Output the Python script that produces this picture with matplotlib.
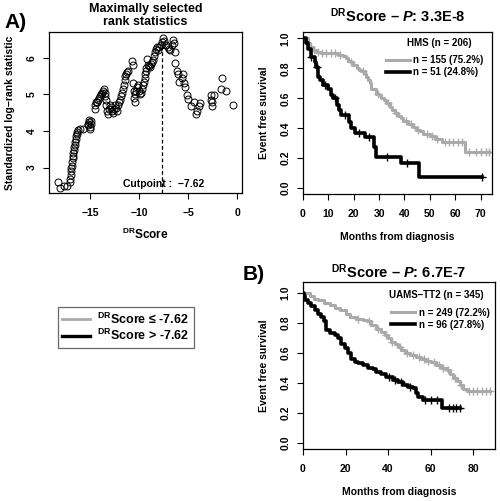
import numpy as np
import matplotlib
matplotlib.use("Agg")
import matplotlib.pyplot as plt
from matplotlib.lines import Line2D

plt.rcParams["font.family"] = ["Liberation Sans", "DejaVu Sans"]
plt.rcParams["font.weight"] = "bold"
plt.rcParams["mathtext.fontset"] = "custom"
plt.rcParams["mathtext.rm"] = "Liberation Sans:bold"
plt.rcParams["mathtext.bf"] = "Liberation Sans:bold"
plt.rcParams["mathtext.it"] = "Liberation Sans:italic:bold"

# --- maximally selected rank statistics (score, standardized statistic) ---
score = [-18.3, -18.1, -17.7, -17.35,
         -17.1, -17.05, -17.0, -16.95, -16.92, -16.88, -16.85, -16.8, -16.75, -16.7,
         -16.65, -16.6, -16.55, -16.5, -16.45, -16.4, -16.35, -16.3, -16.2, -16.0, -15.7,
         -15.25, -15.2, -15.15, -15.1, -15.05, -15.0, -14.95, -14.9,
         -14.55, -14.5, -14.4, -14.3, -14.2, -14.1, -14.0, -13.9, -13.8, -13.7, -13.6,
         -13.5, -13.45, -13.4,
         -13.35, -13.3, -13.2, -13.1, -13.0, -12.9, -12.8, -12.7, -12.6, -12.5, -12.4,
         -12.3, -12.2, -12.1,
         -11.95, -11.85, -11.75, -11.65, -11.55, -11.45, -11.4, -11.3, -11.2, -11.1,
         -10.7, -10.65, -10.6, -10.55, -10.5, -10.45, -10.4, -10.3, -10.2, -10.1, -10.0,
         -9.9, -9.8, -9.7, -9.6,
         -9.5, -9.45, -9.4, -9.35, -9.3, -9.2, -9.1, -9.0, -8.9, -8.8, -8.7, -8.6, -8.5,
         -8.4, -8.3, -8.2, -8.1, -8.0,
         -7.8, -7.7, -7.55, -7.45, -7.3,
         -7.1, -6.95, -6.8, -6.65, -6.5, -6.45, -6.35, -6.3, -6.1, -6.0, -5.9, -5.6,
         -5.55, -5.45, -5.3, -5.1, -5.05, -4.7, -4.4, -4.2, -4.05, -3.9, -3.8, -2.7,
         -2.65, -2.6, -2.55, -2.4, -1.6, -1.5, -1.15, -0.45]
stat = [2.60, 2.45, 2.50, 2.50,
        2.60, 2.70, 2.80, 2.90, 2.98, 3.05, 3.15, 3.25, 3.32, 3.40,
        3.48, 3.55, 3.62, 3.70, 3.78, 3.85, 3.92, 3.98, 4.02, 4.05, 4.05,
        4.15, 4.20, 4.25, 4.30, 4.05, 4.10, 4.20, 4.28,
        4.60, 4.70, 4.78, 4.80, 4.85, 4.90, 4.95, 5.00, 5.05, 5.10, 5.15,
        5.05, 4.95, 4.85,
        4.70, 4.55, 4.45, 4.60, 4.70, 4.65, 4.55, 4.50, 4.60, 4.70, 4.62,
        4.55, 4.70, 4.80,
        4.85, 4.95, 5.05, 5.15, 5.25, 5.40, 5.50, 5.55, 5.60, 5.65,
        5.90, 5.80, 5.30, 5.10, 4.90, 4.78, 5.00, 5.10, 5.20, 5.25, 5.10,
        5.00, 5.05, 5.15, 5.25,
        5.35, 5.45, 5.55, 5.65, 5.72, 5.97, 5.80, 5.78, 5.75, 5.82, 5.88, 5.95, 6.05,
        6.15, 6.25, 6.30, 6.20, 6.28,
        6.35, 6.42, 6.53, 6.45, 6.35,
        6.30, 6.25, 6.20, 6.35, 6.48, 6.40, 6.15, 5.85, 5.65, 5.55, 5.35, 5.45,
        5.55, 5.30, 5.20, 4.98, 4.88, 4.68, 4.78, 4.45, 4.55, 4.68, 4.75, 4.85,
        4.98, 4.68, 4.78, 4.97, 5.15, 5.45, 5.10, 4.72]
cutpoint = -7.62

# --- HMS cohort Kaplan-Meier (months, survival) ---
hms_low_t = [0, 2.0, 2.6, 3.9, 5.3, 7.2, 10.5, 13.8, 15.8, 16.8, 17.8, 18.8, 19.7, 21.1,
             22.0, 23.0, 24.3, 25.0, 25.7, 26.3, 27.0, 28.9, 30.0, 30.9, 32.0, 32.9,
             34.2, 35.2, 36.2, 37.5, 38.5, 39.5, 41.4, 43.4, 44.7, 46.0, 47.4, 50.0,
             52.0, 54.6, 63.8, 73.4]
hms_low_s = [1.0, 0.97, 0.945, 0.92, 0.91, 0.905, 0.90, 0.89, 0.88, 0.87, 0.85, 0.84,
             0.82, 0.80, 0.79, 0.78, 0.76, 0.74, 0.72, 0.70, 0.66, 0.63, 0.62, 0.60,
             0.59, 0.57, 0.54, 0.52, 0.50, 0.48, 0.47, 0.45, 0.43, 0.41, 0.39, 0.38,
             0.36, 0.345, 0.33, 0.31, 0.24, 0.24]
hms_low_cens = [3.0, 4.5, 6.0, 7.5, 9.0, 11.0, 12.5, 14.5, 19.0, 23.5, 29.5, 33.5,
                36.8, 40.5, 42.5, 45.5, 49.0, 51.0, 53.0, 56.0, 57.5, 59.0, 61.0, 62.5,
                65.5, 68.0, 70.0, 72.0, 73.4]
hms_high_t = [0, 1.0, 2.0, 3.0, 4.6, 5.0, 5.9, 6.6, 7.9, 9.9, 11.2, 11.8, 13.4, 14.2,
              15.1, 18.2, 19.1, 20.4, 24.3, 27.9, 28.9, 38.8, 45.8, 70.4]
hms_high_s = [1.0, 0.97, 0.93, 0.873, 0.844, 0.81, 0.744, 0.72, 0.69, 0.66, 0.62, 0.60,
              0.556, 0.52, 0.49, 0.44, 0.40, 0.367, 0.34, 0.278, 0.21, 0.167, 0.078,
              0.078]
hms_high_cens = [3.2, 5.5, 8.5, 12.5, 16.5, 22.0, 26.0, 33.0, 41.0, 70.4]

# --- UAMS-TT2 cohort Kaplan-Meier ---
tt2_low_t = [0, 0.8, 3.1, 5.0, 7.0, 10.0, 12.5, 15.0, 17.3, 20.0, 22.0, 25.0, 28.0,
             30.0, 32.0, 34.5, 36.9, 38.4, 40.0, 41.6, 43.1, 44.7, 46.3, 47.8, 50.2,
             53.3, 55.7, 58.0, 60.4, 62.7, 65.1, 67.5, 69.0, 70.6, 72.2, 73.7, 75.3,
             76.9, 87.8]
tt2_low_s = [1.0, 0.995, 0.98, 0.96, 0.95, 0.93, 0.92, 0.90, 0.885, 0.86, 0.84, 0.825,
             0.82, 0.81, 0.785, 0.76, 0.74, 0.72, 0.70, 0.67, 0.66, 0.64, 0.62, 0.60,
             0.585, 0.573, 0.56, 0.545, 0.54, 0.518, 0.50, 0.485, 0.46, 0.43, 0.41,
             0.385, 0.36, 0.345, 0.345]
tt2_low_cens = [26.0, 31.0, 35.5, 39.0, 42.0, 45.5, 49.0, 51.5, 54.5, 57.0, 59.0, 61.5,
                64.0, 66.0, 68.0, 71.5, 74.5, 78.0, 80.0, 82.0, 84.0, 86.0, 87.8]
tt2_high_t = [0, 0.5, 1.1, 2.4, 3.9, 5.5, 7.1, 8.6, 9.7, 10.7, 12.5, 14.9, 16.5, 18.0,
              19.6, 21.2, 22.7, 24.3, 25.9, 28.2, 30.6, 33.0, 34.5, 36.9, 39.2, 42.4,
              44.7, 47.1, 49.4, 51.8, 53.0, 54.1, 56.5, 65.6, 73.7]
tt2_high_s = [1.0, 0.975, 0.95, 0.93, 0.91, 0.885, 0.86, 0.84, 0.81, 0.75, 0.733, 0.72,
              0.70, 0.66, 0.63, 0.595, 0.56, 0.54, 0.53, 0.518, 0.50, 0.49, 0.473,
              0.458, 0.44, 0.42, 0.407, 0.385, 0.373, 0.362, 0.33, 0.307, 0.284, 0.229,
              0.229]
tt2_high_cens = [40.5, 43.5, 46.0, 50.5, 57.5, 60.0, 63.0, 68.5, 70.5, 72.0, 73.7]

GRAY = "#aaaaaa"
DR = r"$^{\mathrm{DR}}$"


def km_plot(ax, t, s, cens, color, lw):
    ax.step(t, s, where="post", color=color, lw=lw)
    idx = np.searchsorted(t, cens, side="right") - 1
    ax.plot(cens, np.asarray(s)[idx], "+", color=color, ms=6, mew=1.0)


def style_km(ax, xticks, xlim, ylim):
    ax.set_xlim(*xlim)
    ax.set_ylim(*ylim)
    ax.set_xticks(xticks)
    ax.set_yticks([0.0, 0.2, 0.4, 0.6, 0.8, 1.0])
    ax.set_yticklabels(["0.0", "0.2", "0.4", "0.6", "0.8", "1.0"],
                       rotation=90, va="center")
    ax.tick_params(labelsize=7.5, length=4, width=0.8, direction="out", pad=5)
    ax.tick_params(axis="x", pad=7)
    ax.set_ylabel("Event free survival", fontsize=7.5, fontweight="bold", labelpad=8)
    ax.set_xlabel("Months from diagnosis", fontsize=7.5, fontweight="bold", labelpad=9)
    for sp in ax.spines.values():
        sp.set_linewidth(0.9)


fig = plt.figure(figsize=(5.0, 5.01), dpi=100)

# Panel A left: maximally selected rank statistics
ax1 = fig.add_axes([0.098, 0.615, 0.386, 0.321])
ax1.plot(score, stat, "o", mfc="none", mec="black", ms=5, mew=0.7)
ax1.plot([cutpoint, cutpoint], [2.31, 6.45], ls=(0, (3, 2)), color="black", lw=0.9)
ax1.set_xlim(-19.2, 0.5)
ax1.set_ylim(2.31, 6.70)
ax1.set_xticks([-15, -10, -5, 0])
ax1.set_xticklabels(["\u221215", "\u221210", "\u22125", "0"])
ax1.set_yticks([3, 4, 5, 6])
ax1.set_yticklabels(["3", "4", "5", "6"], rotation=90, va="center")
ax1.tick_params(labelsize=7.5, length=4, width=0.8, direction="out", pad=5)
ax1.tick_params(axis="x", pad=7)
for sp in ax1.spines.values():
    sp.set_linewidth(0.9)
ax1.set_ylabel("Standardized log\u2212rank statistic", fontsize=7.5,
               fontweight="bold", labelpad=8)
ax1.set_xlabel(DR + "Score", fontsize=8.5, fontweight="bold", labelpad=6)
ax1.text(-11.6, 2.55, "Cutpoint :  \u22127.62", fontsize=7.5, fontweight="bold",
         ha="left", va="center")
ax1.set_title("Maximally selected\nrank statistics", fontsize=9, fontweight="bold",
              pad=5, linespacing=1.1)

# Panel A right: HMS
ax2 = fig.add_axes([0.606, 0.613, 0.378, 0.323])
km_plot(ax2, hms_low_t, hms_low_s, hms_low_cens, GRAY, 2.2)
km_plot(ax2, hms_high_t, hms_high_s, hms_high_cens, "black", 2.6)
style_km(ax2, [0, 10, 20, 30, 40, 50, 60, 70], (0, 74.5), (-0.038, 1.042))
ax2.set_title(DR + "Score \u2013 " + r"$\mathit{P}$" + ": 3.3E-8", fontsize=10.5,
              fontweight="bold", pad=7)
ax2.text(0.55, 0.93, "HMS (n = 206)", transform=ax2.transAxes, fontsize=7,
         fontweight="bold", ha="left", va="center")
ax2.legend(handles=[Line2D([], [], color=GRAY, lw=2.2),
                    Line2D([], [], color="black", lw=2.6)],
           labels=["n = 155 (75.2%)", "n = 51 (24.8%)"],
           loc="upper left", bbox_to_anchor=(0.42, 0.88), frameon=False,
           fontsize=7, handlelength=2.4, handletextpad=0.4, labelspacing=0.2,
           borderaxespad=0)

# Panel B: UAMS-TT2
ax3 = fig.add_axes([0.606, 0.104, 0.384, 0.333])
km_plot(ax3, tt2_low_t, tt2_low_s, tt2_low_cens, GRAY, 2.2)
km_plot(ax3, tt2_high_t, tt2_high_s, tt2_high_cens, "black", 2.6)
style_km(ax3, [0, 20, 40, 60, 80], (0, 90.3), (-0.042, 1.071))
ax3.set_title(DR + "Score \u2013 " + r"$\mathit{P}$" + ": 6.7E-7", fontsize=10.5,
              fontweight="bold", pad=3)
ax3.text(0.45, 0.925, "UAMS\u2013TT2 (n = 345)", transform=ax3.transAxes, fontsize=7,
         fontweight="bold", ha="left", va="center")
ax3.legend(handles=[Line2D([], [], color=GRAY, lw=2.2),
                    Line2D([], [], color="black", lw=2.6)],
           labels=["n = 249 (72.2%)", "n = 96 (27.8%)"],
           loc="upper left", bbox_to_anchor=(0.44, 0.87), frameon=False,
           fontsize=7, handlelength=2.4, handletextpad=0.4, labelspacing=0.2,
           borderaxespad=0)

# group legend box
leg = fig.legend(handles=[Line2D([], [], color=GRAY, lw=2.0),
                          Line2D([], [], color="black", lw=2.4)],
                 labels=[DR + "Score \u2264 -7.62", DR + "Score > -7.62"],
                 loc="upper left", bbox_to_anchor=(0.116, 0.387), fontsize=9,
                 handlelength=2.2, handletextpad=0.6, labelspacing=0.1,
                 fancybox=False, edgecolor="#444444", borderpad=0.35,
                 borderaxespad=0)
leg.get_frame().set_linewidth(0.9)

fig.text(0.008, 0.955, "A)", fontsize=15, fontweight="bold", ha="left", va="center")
fig.text(0.486, 0.452, "B)", fontsize=15, fontweight="bold", ha="left", va="center")

fig.savefig("out.png", dpi=100)
